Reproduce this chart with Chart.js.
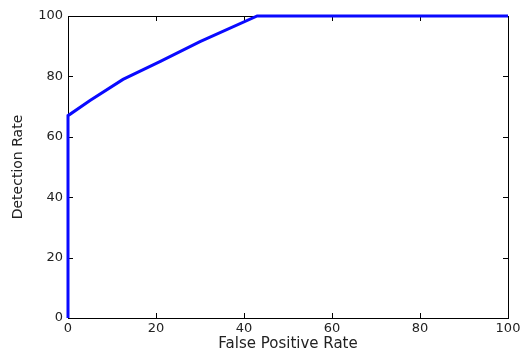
<!DOCTYPE html>
<html>
<head>
<meta charset="utf-8">
<script src="https://cdn.jsdelivr.net/npm/chart.js@4.4.1/dist/chart.umd.min.js"></script>
<style>
  html, body { margin: 0; padding: 0; background: #fff; }
  #wrap { width: 520px; height: 354px; }
</style>
</head>
<body>
<div id="wrap"><canvas id="roc"></canvas></div>
<script>
// ROC curve values
var fpRate = [0, 0, 5, 12.5, 21, 30, 43, 100];
var detRate = [0, 67, 72, 79, 85, 91.5, 100, 100];
var xTicks = [0, 20, 40, 60, 80, 100];
var yTicks = [0, 20, 40, 60, 80, 100];

var points = [];
for (var i = 0; i < fpRate.length; i++) {
	points.push({x: fpRate[i], y: detRate[i]});
}

// matlab style box with ticks pointing inwards
var boxPlugin = {
	id: 'box',
	beforeDatasetsDraw: function(chart) {
		var ctx = chart.ctx;
		var a = chart.chartArea;
		var xs = chart.scales.x, ys = chart.scales.y;
		var len = 5;
		ctx.save();
		ctx.strokeStyle = '#000';
		ctx.lineWidth = 1;
		ctx.beginPath();
		xTicks.forEach(function(v) {
			var px = Math.round(xs.getPixelForValue(v)) + 0.5;
			ctx.moveTo(px, a.bottom); ctx.lineTo(px, a.bottom - len);
			ctx.moveTo(px, a.top); ctx.lineTo(px, a.top + len);
		});
		yTicks.forEach(function(v) {
			var py = Math.round(ys.getPixelForValue(v)) + 0.5;
			ctx.moveTo(a.left, py); ctx.lineTo(a.left + len, py);
			ctx.moveTo(a.right, py); ctx.lineTo(a.right - len, py);
		});
		ctx.stroke();
		ctx.strokeRect(Math.round(a.left) + 0.5, Math.round(a.top) + 0.5,
			Math.round(a.right - a.left), Math.round(a.bottom - a.top));
		ctx.restore();
	}
};

var ctx = document.getElementById('roc');

var rocChart = new Chart(ctx, {
	type: 'scatter',
	data: {
		datasets: [
			{
				label: 'ROC',
				data: points,
				showLine: true,
				borderColor: 'rgb(10, 10, 255)',
				borderWidth: 3,
				pointRadius: 0,
				pointHoverRadius: 0,
				tension: 0,
				clip: false
			}
		]
	},
	options: {
		responsive: true,
		maintainAspectRatio: false,
		animation: false,
		layout: {padding: {left: 10, right: 12, top: 16, bottom: 0}},
		plugins: {legend: {display: false}, tooltip: {enabled: false}},
		scales: {
			x: {
				type: 'linear',
				min: 0,
				max: 100,
				afterBuildTicks: function(s) { s.ticks = xTicks.map(function(v) { return {value: v}; }); },
				afterFit: function(s) { s.height = 36; s.paddingRight = 0; },
				grid: {display: false, drawTicks: false},
				border: {display: false},
				ticks: {color: '#222', padding: 3, font: {family: 'DejaVu Sans', size: 13}},
				title: {
					display: true,
					text: 'False Positive Rate',
					color: '#222',
					padding: {top: 0, bottom: 1},
					font: {family: 'DejaVu Sans', size: 15}
				}
			},
			y: {
				type: 'linear',
				min: 0,
				max: 100,
				afterBuildTicks: function(s) { s.ticks = yTicks.map(function(v) { return {value: v}; }); },
				afterFit: function(s) { s.width = 58; },
				grid: {display: false, drawTicks: false},
				border: {display: false},
				ticks: {color: '#222', padding: 5, font: {family: 'DejaVu Sans', size: 13}},
				title: {
					display: true,
					text: 'Detection Rate',
					color: '#222',
					padding: 0,
					font: {family: 'DejaVu Sans', size: 14}
				}
			}
		}
	},
	plugins: [boxPlugin]
});
</script>
</body>
</html>
